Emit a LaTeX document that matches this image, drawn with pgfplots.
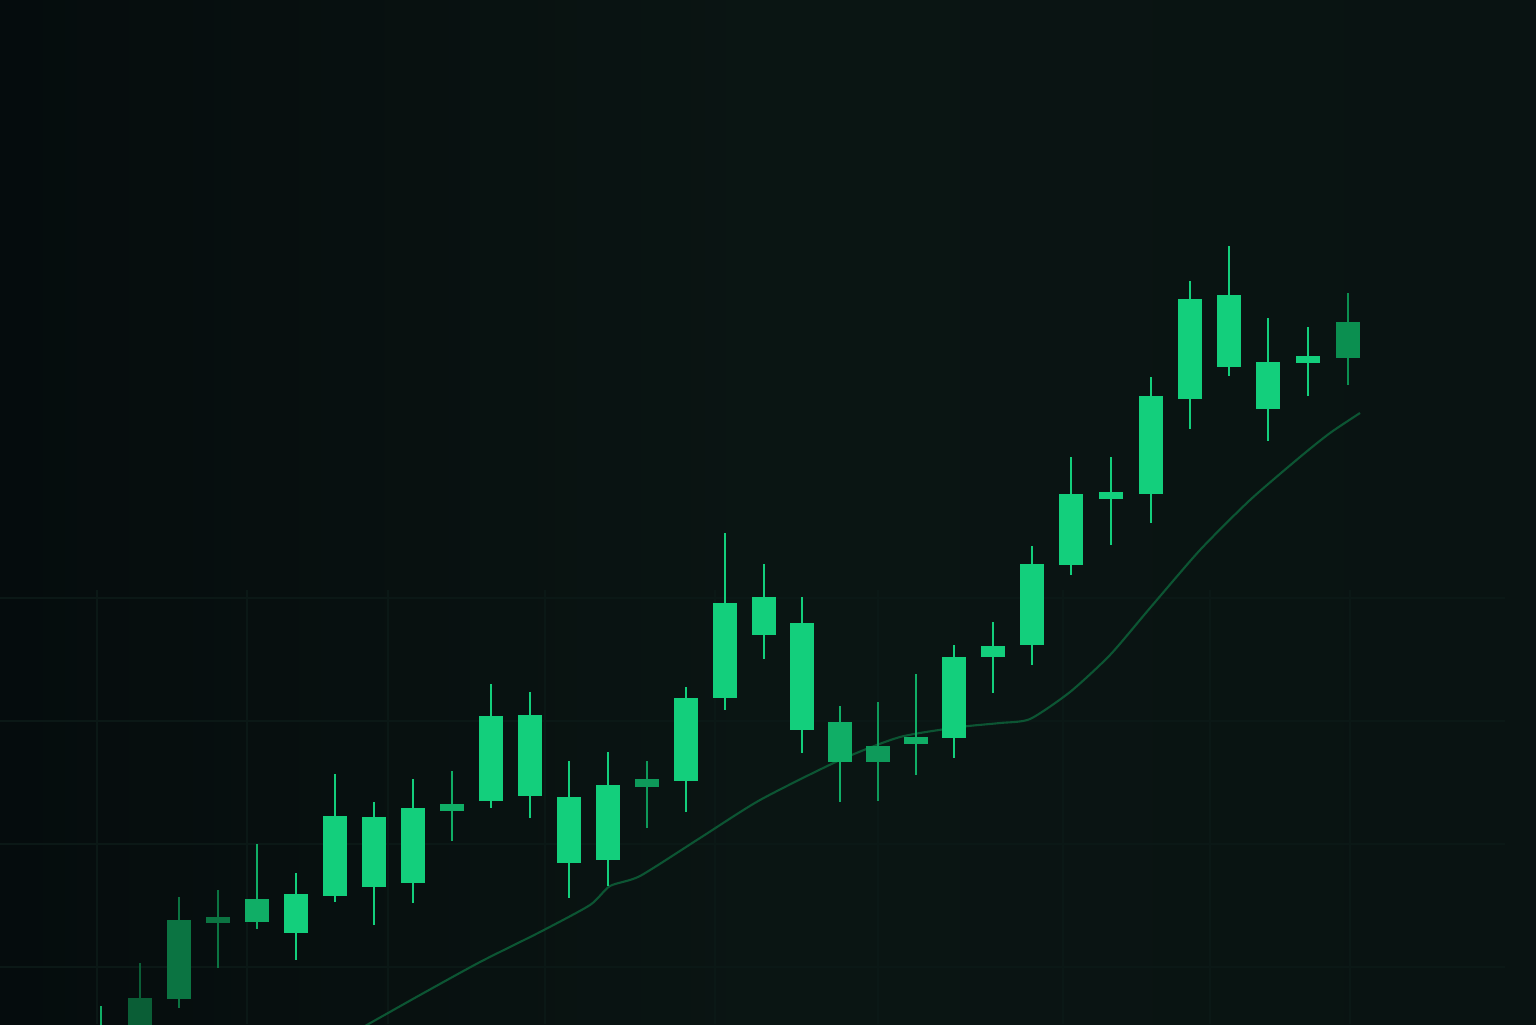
\documentclass[border=0pt]{standalone}
\usepackage{pgfplots}
\pgfplotsset{compat=1.18}
\definecolor{bgA}{HTML}{050C0D}
\definecolor{bgB}{HTML}{0A1513}
\definecolor{bgC}{HTML}{091312}
\definecolor{gridc}{HTML}{0B1816}
\definecolor{cB}{HTML}{13CF7C}
\definecolor{cM}{HTML}{10AE66}
\definecolor{cN}{HTML}{0E9A5A}
\definecolor{cD}{HTML}{0B7442}
\definecolor{cE}{HTML}{0A5E36}
\definecolor{cL}{HTML}{0B8F50}
\definecolor{mac}{HTML}{0C5533}
% x, high, body top, body bottom, low, colour (pixel units, y downwards)
\newcommand{\candle}[6]{%
  \addplot[color=#6, line width=0.75pt, forget plot] coordinates {(#1,#2) (#1,#5)};
  \addplot[color=#6, line width=7.1pt, forget plot] coordinates {(#1,#3) (#1,#4)};
}
\begin{document}
\begin{tikzpicture}
\begin{axis}[
  width=15.36cm, height=10.24cm, scale only axis,
  xmin=0, xmax=1536, ymin=0, ymax=1024, y dir=reverse,
  hide axis, clip=true]
\shade[left color=bgA, right color=bgC, middle color=bgB] (axis cs:0,0) rectangle (axis cs:1536,1024);
% faint grid
\pgfplotsinvokeforeach{598,721,844,967}{\draw[gridc, line width=0.4pt] (axis cs:0,#1) -- (axis cs:1505,#1);}
\pgfplotsinvokeforeach{97,247,388,545,715,878,1063,1210,1350}{\draw[gridc, line width=0.4pt] (axis cs:#1,590) -- (axis cs:#1,1024);}
% moving average
\addplot[mac, line width=0.6pt, smooth, tension=0.4] coordinates {
 (365,1026) (420,995) (480,962) (540,932) (590,905) (610,886) (640,876) (700,838)
 (760,800) (840,760) (900,737) (960,727) (1000,723) (1030,719) (1070,692)
 (1110,655) (1150,608) (1200,550) (1250,500) (1300,457) (1330,433) (1360,413)};
\candle{101}{1006}{1028}{1060}{1070}{cM}
\candle{140}{963}{998}{1060}{1070}{cE}
\candle{179}{897}{920}{999}{1008}{cD}
\candle{218}{890}{917}{923}{968}{cD}
\candle{257}{844}{899}{922}{929}{cM}
\candle{296}{873}{894}{933}{960}{cB}
\candle{335}{774}{816}{896}{902}{cB}
\candle{374}{802}{817}{887}{925}{cB}
\candle{413}{779}{808}{883}{903}{cB}
\candle{452}{771}{804}{811}{841}{cM}
\candle{491}{684}{716}{801}{808}{cB}
\candle{530}{692}{715}{796}{818}{cB}
\candle{569}{761}{797}{863}{898}{cB}
\candle{608}{752}{785}{860}{886}{cB}
\candle{647}{761}{779}{787}{828}{cN}
\candle{686}{687}{698}{781}{812}{cB}
\candle{725}{533}{603}{698}{710}{cB}
\candle{764}{564}{597}{635}{659}{cB}
\candle{802}{597}{623}{730}{753}{cB}
\candle{840}{706}{722}{762}{802}{cM}
\candle{878}{702}{746}{762}{801}{cN}
\candle{916}{674}{737}{744}{775}{cM}
\candle{954}{645}{657}{738}{758}{cB}
\candle{993}{622}{646}{657}{693}{cB}
\candle{1032}{546}{564}{645}{665}{cB}
\candle{1071}{457}{494}{565}{575}{cB}
\candle{1111}{457}{492}{499}{545}{cB}
\candle{1151}{377}{396}{494}{523}{cB}
\candle{1190}{281}{299}{399}{429}{cB}
\candle{1229}{246}{295}{367}{376}{cB}
\candle{1268}{318}{362}{409}{441}{cB}
\candle{1308}{327}{356}{363}{396}{cB}
\candle{1348}{293}{322}{358}{385}{cL}
\end{axis}
\end{tikzpicture}
\end{document}
